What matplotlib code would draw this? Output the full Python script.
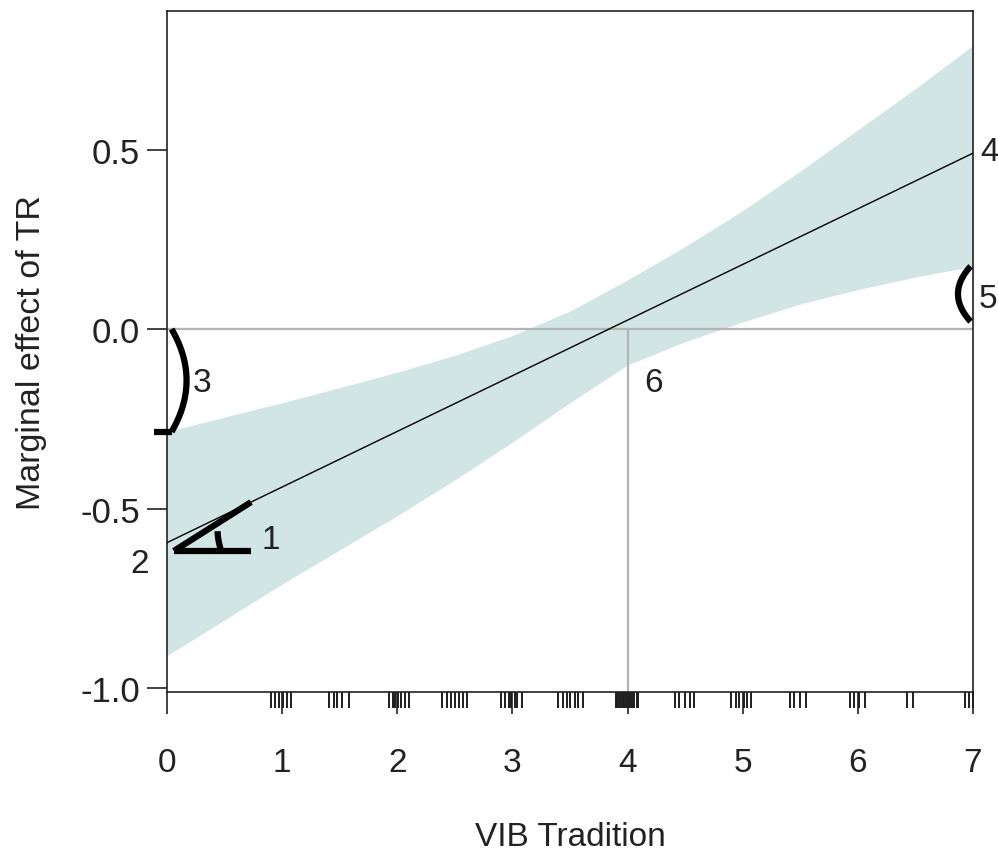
import numpy as np
import matplotlib
matplotlib.use("Agg")
import matplotlib.pyplot as plt
import matplotlib.transforms as mtransforms

# Moderator grid and confidence band of the marginal effect
vib_grid = [0.0, 0.5, 1.0, 1.5, 2.0, 2.5, 3.0, 3.5, 4.0, 4.5, 5.0, 5.5, 6.0, 6.5, 7.0]
band_upper = [-0.286, -0.245, -0.205, -0.163, -0.12, -0.073, -0.018, 0.05, 0.137,
              0.23, 0.33, 0.44, 0.555, 0.67, 0.79]
band_lower = [-0.91, -0.81, -0.71, -0.615, -0.52, -0.42, -0.315, -0.205, -0.10,
              -0.035, 0.02, 0.07, 0.11, 0.145, 0.175]

# Estimated marginal effect line (endpoints)
effect_x = [0.0, 7.0]
effect_y = [-0.595, 0.49]

# Observed values of the moderator (rug)
vib_observed = [
    0.90, 0.94, 0.97, 1.01, 1.04, 1.08,
    1.41, 1.45, 1.48, 1.52, 1.58,
    1.93, 1.96, 1.98, 2.01, 2.03, 2.07, 2.10,
    2.39, 2.43, 2.47, 2.50, 2.54, 2.57, 2.61,
    2.90, 2.94, 2.97, 2.99, 3.02, 3.04, 3.08,
    3.40, 3.44, 3.47, 3.50, 3.54, 3.57, 3.61,
    3.90, 3.91, 3.93, 3.94, 3.96, 3.97, 3.99, 4.00, 4.02, 4.03, 4.05, 4.06, 4.08, 4.09,
    4.41, 4.45, 4.50, 4.54, 4.58,
    4.90, 4.94, 4.97, 5.01, 5.04, 5.07,
    5.41, 5.45, 5.50, 5.55,
    5.93, 5.97, 6.01, 6.06,
    6.43, 6.48,
    6.93, 6.97, 7.00,
]

x_ticks = [0, 1, 2, 3, 4, 5, 6, 7]
y_ticks = [-1.0, -0.5, 0.0, 0.5]
y_tick_labels = ["-1.0", "-0.5", "0.0", "0.5"]

# Numbered markers placed on the plot
marker_labels = ["1", "2", "3", "4", "5", "6"]
marker_x = [0.90, -0.24, 0.30, 7.14, 7.13, 4.23]
marker_y = [-0.585, -0.654, -0.148, 0.496, 0.084, -0.148]

plt.rcParams["font.family"] = ["Liberation Sans", "DejaVu Sans"]

fig = plt.figure(figsize=(9.98, 8.54), dpi=100)
ax = fig.add_axes([0.1673, 0.1885, 0.8076, 0.7974])

ax.set_xlim(0, 7)
ax.set_ylim(-1.011, 0.886)

band_color = "#d0e5e4"
ax.fill_between(vib_grid, band_lower, band_upper, color=band_color, lw=0, zorder=1)

# Reference lines: zero effect and the crossing point
ref_color = "#b4b4b4"
ax.axhline(0.0, color=ref_color, lw=1.6, zorder=2)
ax.plot([4.0, 4.0], [0.0, -1.011], color=ref_color, lw=1.6, zorder=2)

ax.plot(effect_x, effect_y, color="black", lw=1.0, zorder=3)

# Rug of observed moderator values below the axis
rug_trans = mtransforms.blended_transform_factory(ax.transData, ax.transAxes)
ax.vlines(vib_observed, -0.0235, 0.0, transform=rug_trans, color="#1e1e1e",
          lw=1.4, clip_on=False, zorder=4)

# Hand-drawn style markings
thick = dict(color="black", lw=4.5, solid_capstyle="butt", zorder=5, clip_on=False)
# angle marker at the intercept
ax.plot([0.06, 0.73], [-0.618, -0.618], **thick)
ax.plot([0.06, 0.73], [-0.618, -0.482], **thick)
t = np.linspace(0.0, 1.0, 20)
ax.plot(0.47 - 0.03 * np.sin(t * np.pi / 2), -0.618 + 0.055 * t, **thick)

# right-facing bracket on the left edge
s = np.linspace(-1, 1, 40)
ax.plot(0.04 + 0.13 * (1 - s ** 2), -0.143 + 0.143 * s, **thick)
ax.plot([-0.11, 0.04], [-0.286, -0.286], **thick)

# left-facing bracket on the right edge
ax.plot(6.98 - 0.11 * (1 - s ** 2), 0.098 + 0.077 * s, **thick)

for lab, mx, my in zip(marker_labels, marker_x, marker_y):
    ax.text(mx, my, lab, fontsize=24, color="#222222", ha="center", va="center",
            clip_on=False, zorder=6)

for sp in ax.spines.values():
    sp.set_linewidth(1.2)
    sp.set_color("#222222")

ax.set_xticks(x_ticks)
ax.set_xticklabels([str(v) for v in x_ticks])
ax.set_yticks(y_ticks)
ax.set_yticklabels(y_tick_labels)
ax.tick_params(axis="x", direction="out", length=15.8, width=1.2, pad=24,
               labelsize=24, colors="#222222")
ax.tick_params(axis="y", direction="out", length=14.4, width=1.2, pad=5,
               labelsize=25, colors="#222222")

ax.set_xlabel("VIB Tradition", fontsize=24, color="#222222")
ax.xaxis.set_label_coords(0.5, -0.19)
ax.set_ylabel("Marginal effect of TR", fontsize=24.5, color="#222222")
ax.yaxis.set_label_coords(-0.149, 0.5)

fig.savefig("out.png", dpi=100, facecolor="white")
